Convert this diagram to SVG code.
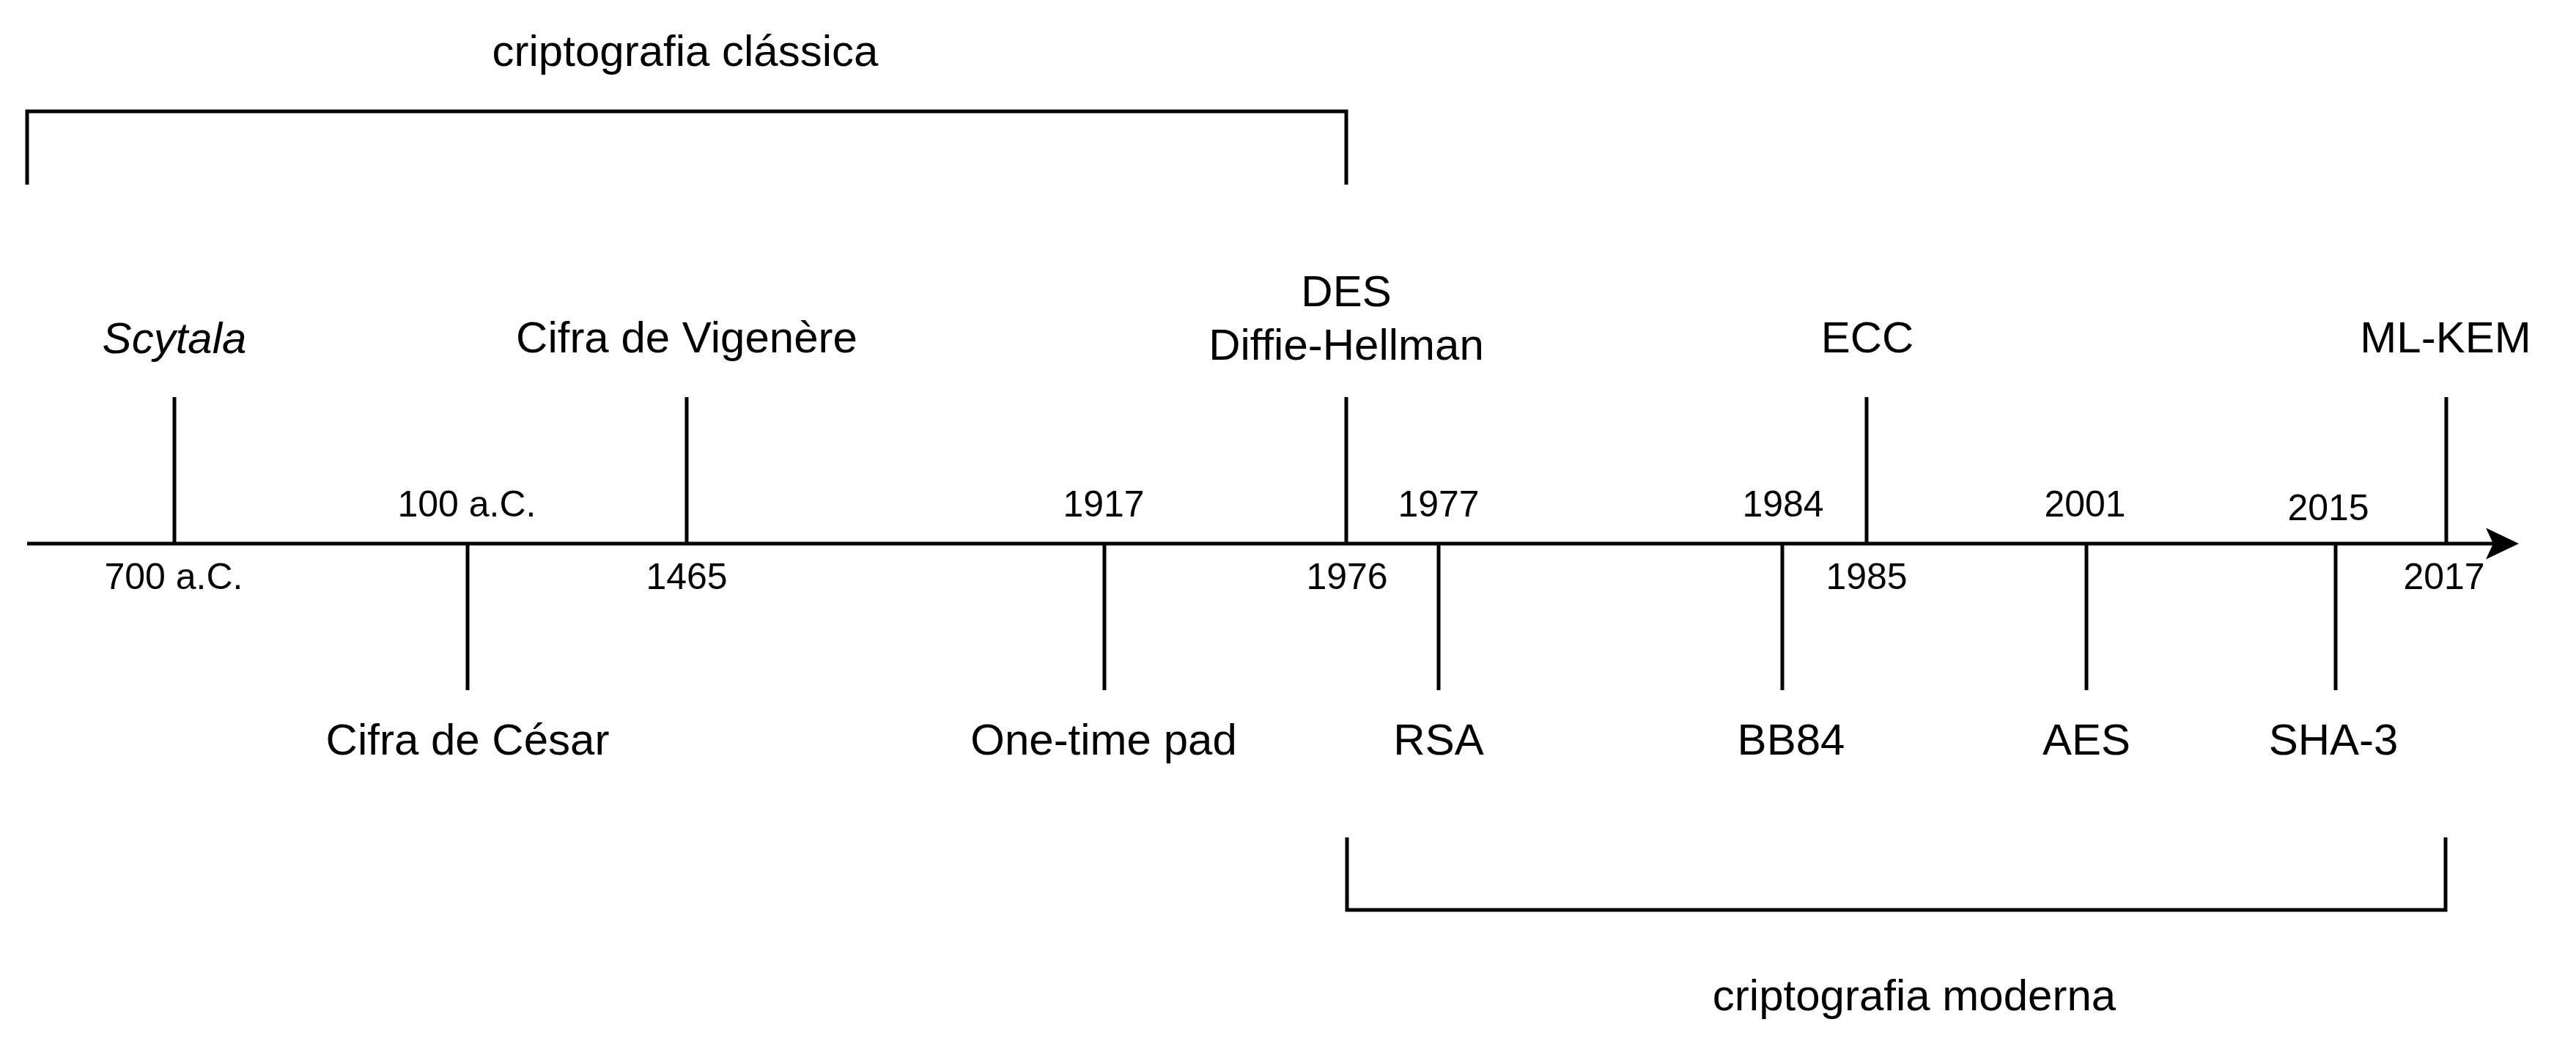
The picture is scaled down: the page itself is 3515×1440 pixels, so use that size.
<svg xmlns="http://www.w3.org/2000/svg" width="3515" height="1440" viewBox="0 0 3515 1440">
<style>
  .ln { stroke: #000; stroke-width: 5; fill: none; stroke-linejoin: miter; stroke-linecap: butt; }
  .lbl { font-family: "Liberation Sans", Arial, Helvetica, sans-serif; font-size: 60px; fill: #000; text-anchor: middle; }
  .yr { font-family: "Liberation Sans", Arial, Helvetica, sans-serif; font-size: 50px; fill: #000; text-anchor: middle; }
</style>
<defs>
  <marker id="arrow" markerUnits="userSpaceOnUse" markerWidth="45" markerHeight="43" viewBox="0 0 45 43" refX="10" refY="21.5" orient="auto">
    <path d="M45,21.5 L0,0 L10,21.5 L0,43 Z" fill="#000"/>
  </marker>
</defs>
<rect width="3515" height="1440" fill="#fff"/>

<g id="connectors">
  <line id="axis" class="ln" x1="37" y1="742" x2="3402" y2="742" marker-end="url(#arrow)"/>
  <path id="bracket-classica" class="ln" d="M37,252 V152 H1837 V252"/>
  <path id="bracket-moderna" class="ln" d="M1838,1143 V1242 H3337 V1143"/>
</g>

<g id="node-scytala">
  <line class="ln" x1="238" y1="542" x2="238" y2="742"/>
  <text class="lbl" x="238" y="482" font-style="italic">Scytala</text>
  <text class="yr" x="237" y="804">700 a.C.</text>
</g>
<g id="node-cesar">
  <line class="ln" x1="638" y1="742" x2="638" y2="942"/>
  <text class="lbl" x="638" y="1030">Cifra de César</text>
  <text class="yr" x="637" y="705">100 a.C.</text>
</g>
<g id="node-vigenere">
  <line class="ln" x1="937" y1="542" x2="937" y2="742"/>
  <text class="lbl" x="937" y="481">Cifra de Vigenère</text>
  <text class="yr" x="937" y="804">1465</text>
</g>
<g id="node-otp">
  <line class="ln" x1="1507" y1="742" x2="1507" y2="942"/>
  <text class="lbl" x="1506" y="1030">One-time pad</text>
  <text class="yr" x="1506" y="705">1917</text>
</g>
<g id="node-des">
  <line class="ln" x1="1837" y1="542" x2="1837" y2="742"/>
  <text class="lbl" x="1837" y="418">DES</text>
  <text class="lbl" x="1837" y="491">Diffie-Hellman</text>
  <text class="yr" x="1838" y="804">1976</text>
</g>
<g id="node-rsa">
  <line class="ln" x1="1963" y1="742" x2="1963" y2="942"/>
  <text class="lbl" x="1963" y="1030">RSA</text>
  <text class="yr" x="1963" y="705">1977</text>
</g>
<g id="node-bb84">
  <line class="ln" x1="2432" y1="742" x2="2432" y2="942"/>
  <text class="lbl" x="2444" y="1030">BB84</text>
  <text class="yr" x="2433" y="705">1984</text>
</g>
<g id="node-ecc">
  <line class="ln" x1="2547" y1="542" x2="2547" y2="742"/>
  <text class="lbl" x="2548" y="481">ECC</text>
  <text class="yr" x="2547" y="804">1985</text>
</g>
<g id="node-aes">
  <line class="ln" x1="2847" y1="742" x2="2847" y2="942"/>
  <text class="lbl" x="2847" y="1030">AES</text>
  <text class="yr" x="2845" y="705">2001</text>
</g>
<g id="node-sha3">
  <line class="ln" x1="3187" y1="742" x2="3187" y2="942"/>
  <text class="lbl" x="3184" y="1030">SHA-3</text>
  <text class="yr" x="3177" y="710">2015</text>
</g>
<g id="node-mlkem">
  <line class="ln" x1="3338" y1="542" x2="3338" y2="742"/>
  <text class="lbl" x="3337" y="481">ML-KEM</text>
  <text class="yr" x="3335" y="804">2017</text>
</g>

<g id="label-classica">
  <text class="lbl" x="935" y="90">criptografia clássica</text>
</g>
<g id="label-moderna">
  <text class="lbl" x="2612" y="1379">criptografia moderna</text>
</g>
</svg>
